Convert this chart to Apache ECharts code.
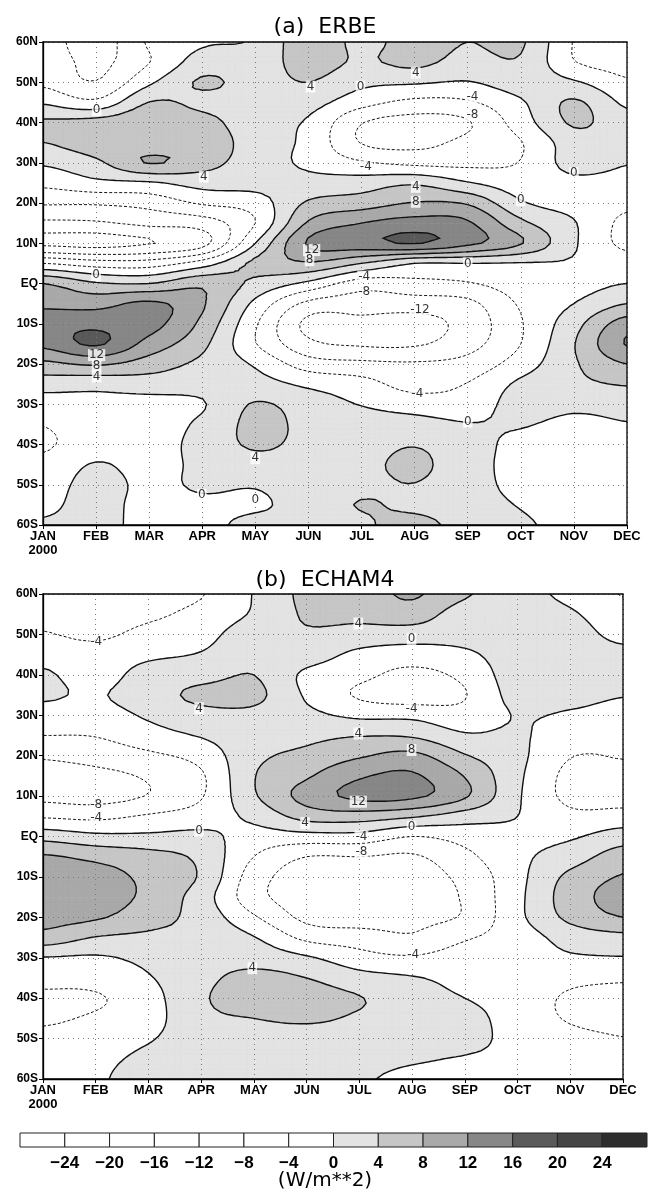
<!DOCTYPE html>
<html><head><meta charset="utf-8">
<script src="https://cdn.jsdelivr.net/npm/echarts/dist/echarts.min.js"></script>
<style>html,body{margin:0;padding:0;background:#fff}#c{width:650px;height:1189px}</style>
</head><body><div id="c"></div>
<script>
// ---------- data ----------
const months = ['JAN','FEB','MAR','APR','MAY','JUN','JUL','AUG','SEP','OCT','NOV','DEC'];
const yearLabel = '2000';
const lats = [60,55,50,45,40,35,30,25,20,15,10,5,0,-5,-10,-15,-20,-25,-30,-35,-40,-45,-50,-55,-60];
const levels = [-24,-20,-16,-12,-8,-4,0,4,8,12,16,20,24];
const lineLevels = [-16,-12,-8,-4,0,4,8,12,16];
const bandColors = ['#ffffff','#ffffff','#ffffff','#ffffff','#ffffff','#ffffff','#ffffff',
                    '#e3e3e3','#c6c6c6','#a9a9a9','#878787','#5a5a5a','#454545','#2e2e2e'];
const unitLabel = '(W/m**2)';
const titleA = '(a)  ERBE';
const titleB = '(b)  ECHAM4';

// panel (a) ERBE, one column per month, latitudes 60N -> 60S every 5 deg
const erbeJan = [-6,-5.5,-4.8,-0.5,4.6,3.95,0.5,-3,-7.5,-12.8,-17,-4,8,11,14.5,13,7,1.8,-2,-3.9,-4.5,-3,-2,-1,0.5];
const erbeFeb = [-10,-9,-7.8,-3,5.5,6,3.2,-1,-7.5,-12.5,-17.5,-6,4.5,10.5,15,16.5,8.5,1.2,-1,-2,-2,0.3,1.5,1.5,1];
const erbeMar = [-3.5,-4.1,-0.7,4.1,7,6,8.2,-0.5,-6.5,-11,-16.2,-6,4,12.8,13.5,10.5,6,2,-1.5,-2,-2,-1.5,-1,-1.5,-1];
const erbeApr = [-0.5,1.8,4.5,3,5.5,6.5,5.5,1.5,-3.5,-10,-13.5,-2,7,8.5,7,5,3,1.5,-0.3,0.8,1.5,1,0.6,-0.8,-1];
const erbeMay = [0.5,2,2.5,2,1.5,2,2,1.5,-2,-4,0,5,3,-1,-3.5,-3.8,-0.5,1.5,4.3,5,4.5,2.5,0.3,-0.5,1];
const erbeJun = [6.5,5.5,4,1.5,-0.5,-1,-0.8,1.5,4.5,8.5,12.5,7.5,-1,-9,-13,-11,-6,-0.8,2,3,3,2.5,2,1.5,0.5];
const erbeJul = [3,3.5,1,-2.5,-7.8,-8.2,-3.5,2,6,12,14.5,4,-6,-10,-13,-12.5,-7,-2.5,-0.2,2,2.5,3,3,4.2,3.2];
const erbeAug = [5.5,5,0.5,-5,-9.5,-9,-5,3.4,8.2,13.5,16.2,0,-5,-10,-13.5,-12.5,-7.5,-5.5,-1.8,1.5,3.8,4.8,3.9,3,5.5];
const erbeSep = [4,2.5,-0.2,-4.5,-8.3,-7,-5,0.3,7.5,12.5,13,0,-4.3,-9,-10.5,-9.5,-6.5,-3.8,-2,0.2,1.5,1.5,1.5,1.5,2];
const erbeOct = [4.5,3.5,2,-0.5,-2,-4.2,-3.8,-2,0.5,5,8.3,-0.3,-2,-3.5,-4.3,-4,-2,0.8,1.5,0.3,-1,-1.2,-1,-0.2,0.5];
const erbeNov = [-4.2,-3.8,0.5,4.5,4.5,2,1.5,-1,-1.5,0.3,0.5,-0.5,-1.5,0,2.5,3.8,3.5,3,1,-1,-1.5,-1.8,-1.5,-1.5,-1];
const erbeDec = [-6,-5.5,-3.5,-0.8,1.5,1.5,0.2,-1.5,-3,-5,-5,-2,0,4,10,12.3,8,4.3,1.5,-0.2,-1.5,-2,-2,-1.5,-1];

// panel (b) ECHAM4
const echamJan = [-5,-4.5,-3.8,-1.5,0.5,0.5,-1.5,-4,-7.5,-9.5,-9,-4.5,2.5,8.5,10,10.5,9.5,6.5,-0.2,-3,-4.5,-4.5,-3,-2,-1.5];
const echamFeb = [-5,-5,-4.6,-2.5,-1.5,-0.3,-1.5,-3.8,-6.5,-9,-9.5,-5,1,7,9.5,10,8.5,3.8,-0.5,-2.5,-4.4,-3.5,-2,-1,-0.5];
const echamMar = [-4.5,-4.5,-3,-0.8,1.5,2,0.5,-1.5,-4.8,-7.5,-7.8,-3.5,0.8,5.5,7,7,5.5,3.2,1,-0.3,-1.5,-1.5,-0.3,0.8,1.5];
const echamApr = [-4.2,-3,-1.5,0.3,2.5,5,2.5,0.3,-2.5,-4.5,-4.3,-2,1,3,3.5,2,2.5,3,2.5,3,3.5,3,2,1.5,1];
const echamMay = [0.2,0.5,2.5,3,4,5,3,2.5,3,3.8,3.5,1,-1.5,-4,-6,-6.5,-3.5,0.2,2.5,5,5.5,4,2.5,1.5,1];
const echamJun = [5,4.5,3.5,2,-0.8,-0.5,1,3,5,7.5,9.5,5.5,-1.5,-8,-10,-10,-9,-5,0.5,4,5.5,4.5,2.5,2,1.5];
const echamJul = [6,5,2.5,-1,-3,-4.5,-0.8,3.8,7.5,11.5,13,6,-1.5,-8,-10,-11,-10,-6,-2.5,1.5,4.2,3.5,2.5,1.5,0.5];
const echamAug = [8.5,6,2,-2,-5,-6,-1,3.5,9,12.5,12.8,4.5,-4,-8.5,-10,-10.5,-9,-7.5,-3.5,0.3,1.5,2,2,0.5,-1];
const echamSep = [4.5,2,1.5,-0.8,-3,-4.2,-2.5,0.5,4.3,7.8,8.5,2,-2.5,-5,-6.8,-7.5,-7.5,-4.5,-2,-1,0,1.5,1.5,-0.3,-1];
const echamOct = [1.5,2,2.5,2,2,1.5,0.2,0.5,1,0.8,0.5,0,-1,-1,-1.2,-1,-1,-2,-1.5,-1.5,-2,-2,-1.5,-1,-0.8];
const echamNov = [-1,0.5,1.5,1.5,1.5,1.2,-0.5,-2,-3.8,-5,-5,-3,-0.5,2,5,6,5,1.5,-0.5,-3,-4.5,-4.3,-3,-2,-1];
const echamDec = [-4.2,-2.5,-1,1,2,0.2,-1.5,-3,-3.8,-5,-5.5,-2.5,2,6,8.3,9.5,8,2.8,-0.2,-3.5,-5,-5,-3.9,-3,-2];

// contour labels: [month index, latitude, text]
const erbeLabels = [
  [1.01,43.1,'0'],[3.03,26.5,'4'],[5.04,48.9,'4'],[7.02,52.4,'4'],[5.98,48.9,'0'],
  [8.09,46.4,'-4'],[8.09,41.9,'-8'],[6.08,29.0,'-4'],[10.0,27.4,'0'],[7.02,24.0,'4'],
  [7.02,20.3,'8'],[9.0,20.7,'0'],[5.06,8.3,'12'],[5.02,5.8,'8'],[8.0,5.0,'0'],
  [1.0,2.1,'0'],[6.05,1.7,'-4'],[6.05,-2.0,'-8'],[7.1,-6.6,'-12'],[7.05,-27.3,'-4'],
  [8.0,-34.3,'0'],[1.01,-17.8,'12'],[1.01,-20.4,'8'],[1.01,-23.1,'4'],[4.0,-43.4,'4'],
  [2.99,-52.5,'0'],[4.0,-53.8,'0']
];
const echamLabels = [
  [1.01,48.2,'-4'],[2.96,31.7,'4'],[1.01,7.8,'-8'],[1.01,4.5,'-4'],[2.96,1.4,'0'],
  [4.97,3.3,'4'],[5.98,52.7,'4'],[6.99,48.9,'0'],[6.99,31.7,'-4'],[5.98,25.5,'4'],
  [6.99,21.4,'8'],[5.98,8.6,'12'],[6.99,2.4,'0'],[6.04,0.0,'-4'],[6.04,-3.8,'-8'],
  [7.02,-29.3,'-4'],[3.97,-32.6,'4']
];

const erbeCols = [erbeJan,erbeFeb,erbeMar,erbeApr,erbeMay,erbeJun,erbeJul,erbeAug,erbeSep,erbeOct,erbeNov,erbeDec];
const echamCols = [echamJan,echamFeb,echamMar,echamApr,echamMay,echamJun,echamJul,echamAug,echamSep,echamOct,echamNov,echamDec];

// ---------- rendering helpers ----------
const NM = months.length, NL = lats.length;
const SU = 8, SW = 4;           // sub-divisions per month / per 5 deg for smooth contouring
const LSTEP = lats[0] - lats[1];
const FIRST_SHADED = levels.indexOf(0) + 1;

function cr(p0,p1,p2,p3,t){
  return 0.5*(2*p1 + (-p0+p2)*t + (2*p0-5*p1+4*p2-p3)*t*t + (-p0+3*p1-3*p2+p3)*t*t*t);
}
function refine(cols){
  const NU = (NM-1)*SU+1, NW = (NL-1)*SW+1;
  const g = (m,k) => cols[Math.max(0,Math.min(NM-1,m))][Math.max(0,Math.min(NL-1,k))];
  const tmp = [];
  for (let m=0;m<NM;m++){
    const row=[];
    for (let b=0;b<NW;b++){
      const k = Math.min(Math.floor(b/SW), NL-2), t = (b-k*SW)/SW;
      row.push(cr(g(m,k-1),g(m,k),g(m,k+1),g(m,k+2),t));
    }
    tmp.push(row);
  }
  const V=[];
  for (let a=0;a<NU;a++){
    const m = Math.min(Math.floor(a/SU), NM-2), t=(a-m*SU)/SU;
    const h = mm => tmp[Math.max(0,Math.min(NM-1,mm))];
    const col=[];
    for (let b=0;b<NW;b++) col.push(cr(h(m-1)[b],h(m)[b],h(m+1)[b],h(m+2)[b],t));
    V.push(col);
  }
  return {V,NU,NW};
}
const uOf = a => a/SU;
const latOf = b => lats[0] - b*LSTEP/SW;

function clipPoly(poly,t,keepAbove){
  const out=[], n=poly.length;
  for (let i=0;i<n;i++){
    const A=poly[i], B=poly[(i+1)%n];
    const ia = keepAbove ? A[2]>=t : A[2]<t;
    const ib = keepAbove ? B[2]>=t : B[2]<t;
    if (ia) out.push(A);
    if (ia!==ib){ const s=(t-A[2])/(B[2]-A[2]); out.push([A[0]+s*(B[0]-A[0]), A[1]+s*(B[1]-A[1]), t]); }
  }
  return out;
}

function contourLines(R, level){
  const {V,NU,NW} = R;
  const id=(a,b)=>a*NW+b;
  const segs=[];
  const tri=(P)=>{
    const vals=P.map(p=>V[p[0]][p[1]]);
    const cross=[];
    for (let i=0;i<3;i++){
      const j=(i+1)%3;
      const ia=vals[i]>=level, ib=vals[j]>=level;
      if (ia!==ib){
        const ka=id(P[i][0],P[i][1]), kb=id(P[j][0],P[j][1]);
        const key = ka<kb ? ka+'_'+kb : kb+'_'+ka;
        const s=(level-vals[i])/(vals[j]-vals[i]);
        const a=P[i][0]+s*(P[j][0]-P[i][0]), b=P[i][1]+s*(P[j][1]-P[i][1]);
        cross.push({key, u:uOf(a), lat:latOf(b)});
      }
    }
    if (cross.length===2) segs.push(cross);
  };
  for (let a=0;a<NU-1;a++) for (let b=0;b<NW-1;b++){
    tri([[a,b],[a+1,b],[a+1,b+1]]);
    tri([[a,b],[a+1,b+1],[a,b+1]]);
  }
  const adj=new Map();
  segs.forEach((s,i)=>s.forEach(p=>{ if(!adj.has(p.key)) adj.set(p.key,[]); adj.get(p.key).push(i); }));
  const used=new Array(segs.length).fill(false);
  const extend=(line,key)=>{
    while(true){
      let next=-1;
      for (const si of adj.get(key)) if(!used[si]){ next=si; break; }
      if (next<0) break;
      used[next]=true;
      const s=segs[next];
      const other = s[0].key===key ? s[1] : s[0];
      line.push(other); key=other.key;
    }
  };
  const out=[];
  for (let i=0;i<segs.length;i++){
    if (used[i]) continue;
    used[i]=true;
    const fwd=[segs[i][0],segs[i][1]]; extend(fwd,segs[i][1].key);
    const back=[segs[i][0]]; extend(back,segs[i][0].key);
    const line=back.reverse().concat(fwd.slice(1));
    out.push({level, pts: line.map(p=>[p.u,p.lat])});
  }
  return out;
}

const axisFont = "'Liberation Sans Narrow','Liberation Sans',sans-serif";
const latLabel = v => v>0 ? v+'N' : (v<0 ? (-v)+'S' : 'EQ');
const fmtLevel = v => v<0 ? '\u2212'+(-v) : String(v);

const grids = [
  {left:43, top:42, width:584, height:483, show:true, borderColor:'#000', borderWidth:1.3, z:8},
  {left:43, top:594, width:580, height:485, show:true, borderColor:'#000', borderWidth:1.3, z:8},
  {left:20, top:1133, width:629, height:14}
];
const xAxes=[], yAxes=[], series=[];
[erbeCols, echamCols].forEach((cols,gi)=>{
  xAxes.push({type:'value', gridIndex:gi, min:0, max:NM-1, interval:1, z:3,
    axisLine:{show:true, onZero:false, lineStyle:{color:'#000', width:1.3}},
    axisTick:{show:true, length:4, lineStyle:{color:'#000'}},
    axisLabel:{margin:4, color:'#000', fontFamily:axisFont, fontWeight:'bold', fontSize:13, lineHeight:14,
      formatter: v => v===0 ? months[0]+'\n'+yearLabel : (months[v]||'')},
    splitLine:{show:true, lineStyle:{color:'#777', width:1, type:[1,4]}}});
  yAxes.push({type:'value', gridIndex:gi, min:lats[lats.length-1], max:lats[0], interval:10, z:3,
    axisLine:{show:true, onZero:false, lineStyle:{color:'#000', width:1.3}},
    axisTick:{show:true, length:4, lineStyle:{color:'#000'}},
    axisLabel:{margin:5, color:'#000', fontFamily:axisFont, fontWeight:'bold', fontSize:12, formatter:latLabel},
    splitLine:{show:true, lineStyle:{color:'#777', width:1, type:[1,4]}}});

  const R = refine(cols);
  const points=[];
  for (let m=0;m<NM;m++) for (let k=0;k<NL;k++) points.push([m, lats[k], cols[m][k]]);
  series.push({type:'custom', xAxisIndex:gi, yAxisIndex:gi, z:1, silent:true, clip:true, animation:false,
    data:points,
    renderItem:(params,api)=>{
      const idx=params.dataIndex, m=Math.floor(idx/NL), k=idx%NL;
      if (m>=NM-1 || k>=NL-1) return null;
      const P=[];
      for (let da=0;da<=SU;da++){
        const col=[];
        for (let db=0;db<=SW;db++){
          const a=m*SU+da, b=k*SW+db;
          const c=api.coord([uOf(a), latOf(b)]);
          col.push([c[0],c[1],R.V[a][b]]);
        }
        P.push(col);
      }
      const paths={};
      for (let da=0;da<SU;da++) for (let db=0;db<SW;db++){
        const p00=P[da][db], p10=P[da+1][db], p11=P[da+1][db+1], p01=P[da][db+1];
        [[p00,p10,p11],[p00,p11,p01]].forEach(T=>{
          const vmin=Math.min(T[0][2],T[1][2],T[2][2]), vmax=Math.max(T[0][2],T[1][2],T[2][2]);
          for (let band=FIRST_SHADED; band<bandColors.length; band++){
            const lo=levels[band-1], hi= band<levels.length ? levels[band] : Infinity;
            if (vmax<lo || vmin>=hi) continue;
            let poly=T;
            if (vmin<lo) poly=clipPoly(poly,lo,true);
            if (poly.length>=3 && vmax>=hi) poly=clipPoly(poly,hi,false);
            if (poly.length<3) continue;
            let s='M'+poly[0][0].toFixed(2)+' '+poly[0][1].toFixed(2);
            for (let q=1;q<poly.length;q++) s+='L'+poly[q][0].toFixed(2)+' '+poly[q][1].toFixed(2);
            paths[band]=(paths[band]||'')+s+'Z';
          }
        });
      }
      return {type:'group', children:Object.keys(paths).map(band=>({
        type:'path', shape:{pathData:paths[band]},
        style:{fill:bandColors[band], stroke:bandColors[band], lineWidth:0.7}}))};
    }});

  let lines=[];
  lineLevels.forEach(L=>{ lines=lines.concat(contourLines(R,L)); });
  series.push({type:'custom', xAxisIndex:gi, yAxisIndex:gi, z:4, silent:true, clip:true, animation:false,
    data: lines.map(l=>l.pts[0]),
    renderItem:(params,api)=>{
      const l=lines[params.dataIndex];
      const pts=l.pts.map(p=>api.coord(p));
      return {type:'polyline', shape:{points:pts},
        style:{fill:'none', stroke:'#111', lineWidth: l.level<0 ? 1.0 : 1.4,
               lineDash: l.level<0 ? [3,2] : null}};
    }});

  const labs = gi===0 ? erbeLabels : echamLabels;
  series.push({type:'scatter', xAxisIndex:gi, yAxisIndex:gi, z:6, silent:true, animation:false,
    symbolSize:1, itemStyle:{color:'rgba(0,0,0,0)'},
    data: labs.map(l=>({value:[l[0],l[1]], name:l[2]})),
    label:{show:true, position:'inside', formatter:p=>p.name, fontSize:12, color:'#000',
      fontFamily:'DejaVu Sans', backgroundColor:'#fff', padding:[0,1]}});
});

// colour bar
xAxes.push({type:'value', gridIndex:2, min:0, max:bandColors.length, interval:1,
  axisLine:{show:false}, axisTick:{show:false}, splitLine:{show:false},
  axisLabel:{margin:8, color:'#000', fontFamily:axisFont, fontWeight:'bold', fontSize:17,
    formatter: v => (v>=1 && v<=levels.length) ? fmtLevel(levels[v-1]) : ''}});
yAxes.push({type:'value', gridIndex:2, min:0, max:1, show:false});
series.push({type:'custom', xAxisIndex:2, yAxisIndex:2, silent:true, animation:false,
  data: bandColors.map((c,k)=>[k+0.5,0.5]),
  renderItem:(params,api)=>{
    const k=params.dataIndex;
    const p0=api.coord([k,1]), p1=api.coord([k+1,0]);
    return {type:'rect', shape:{x:p0[0], y:p0[1], width:p1[0]-p0[0], height:p1[1]-p0[1]},
      style:{fill:bandColors[k], stroke:'#222', lineWidth:1}};
  }});

const titleStyle = {fontFamily:'DejaVu Sans', fontSize:22, fontWeight:'normal', color:'#000'};
const option = {
  animation:false,
  backgroundColor:'#fff',
  title:[
    {text:titleA, left:'center', top:11, textStyle:titleStyle},
    {text:titleB, left:'center', top:564, textStyle:titleStyle},
    {text:unitLabel, left:'center', top:1166, textStyle:{fontFamily:'DejaVu Sans', fontSize:20, fontWeight:'normal', color:'#000'}}
  ],
  grid:grids, xAxis:xAxes, yAxis:yAxes, series:series
};
const chart = echarts.init(document.getElementById('c'), null, {renderer:'canvas'});
chart.setOption(option);
</script></body></html>
